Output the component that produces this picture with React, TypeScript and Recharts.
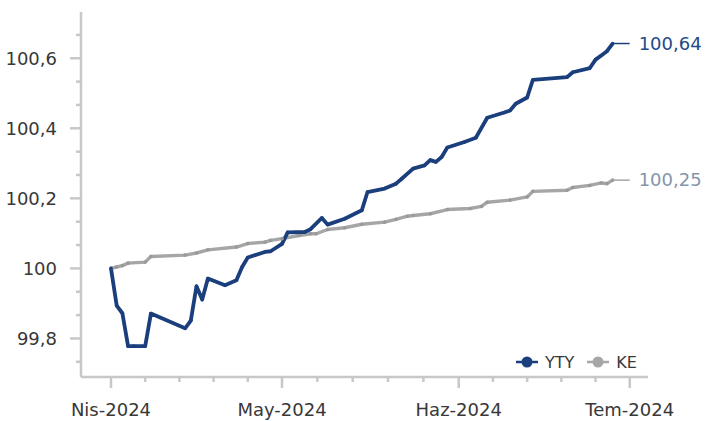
import { LineChart, Line, XAxis, YAxis } from 'recharts';

const DAY = 86400000;

const ytyDates = [
  '2024-04-01', '2024-04-02', '2024-04-03', '2024-04-04', '2024-04-05', '2024-04-07', '2024-04-08',
  '2024-04-14', '2024-04-15', '2024-04-16', '2024-04-17', '2024-04-18', '2024-04-21', '2024-04-23',
  '2024-04-24', '2024-04-25', '2024-04-28', '2024-04-29', '2024-05-01', '2024-05-02', '2024-05-05',
  '2024-05-06', '2024-05-08', '2024-05-09', '2024-05-12', '2024-05-15', '2024-05-16', '2024-05-19',
  '2024-05-21', '2024-05-22', '2024-05-24', '2024-05-26', '2024-05-27', '2024-05-28', '2024-05-29',
  '2024-05-30', '2024-06-02', '2024-06-04', '2024-06-06', '2024-06-09', '2024-06-10', '2024-06-11',
  '2024-06-13', '2024-06-14', '2024-06-20', '2024-06-21', '2024-06-24', '2024-06-25', '2024-06-26',
  '2024-06-27', '2024-06-28',
];
const ytyValues = [
  100.0, 99.894, 99.872, 99.778, 99.778, 99.778, 99.871,
  99.829, 99.851, 99.949, 99.911, 99.971, 99.952, 99.966,
  100.004, 100.031, 100.047, 100.049, 100.07, 100.103, 100.104,
  100.112, 100.144, 100.125, 100.142, 100.166, 100.218, 100.228,
  100.242, 100.256, 100.285, 100.294, 100.309, 100.304, 100.318,
  100.345, 100.361, 100.373, 100.43, 100.445, 100.451, 100.47,
  100.488, 100.538, 100.546, 100.56, 100.572, 100.596, 100.608,
  100.62, 100.642,
];

const keDates = [
  '2024-04-01', '2024-04-02', '2024-04-03', '2024-04-04', '2024-04-07', '2024-04-08', '2024-04-14',
  '2024-04-16', '2024-04-18', '2024-04-23', '2024-04-25', '2024-04-28', '2024-04-29', '2024-05-01',
  '2024-05-04', '2024-05-06', '2024-05-07', '2024-05-09', '2024-05-12', '2024-05-15', '2024-05-19',
  '2024-05-21', '2024-05-23', '2024-05-24', '2024-05-27', '2024-05-30', '2024-06-03', '2024-06-05',
  '2024-06-06', '2024-06-10', '2024-06-13', '2024-06-14', '2024-06-20', '2024-06-21', '2024-06-24',
  '2024-06-26', '2024-06-27', '2024-06-28',
];
const keValues = [
  100.0, 100.004, 100.008, 100.015, 100.018, 100.034, 100.038,
  100.044, 100.053, 100.061, 100.071, 100.075, 100.08, 100.085,
  100.094, 100.099, 100.099, 100.111, 100.116, 100.126, 100.132,
  100.14, 100.149, 100.151, 100.156, 100.168, 100.171, 100.177,
  100.189, 100.195, 100.204, 100.22, 100.223, 100.231, 100.237,
  100.244, 100.242, 100.252,
];

const monthTicks = ['2024-04-01', '2024-05-01', '2024-06-01', '2024-07-01'];
const monthLabels = ['Nis-2024', 'May-2024', 'Haz-2024', 'Tem-2024'];

const ytyColor = '#1b3f7d';
const ytyLabelColor = '#22498a';
const keColor = '#a6a6a6';
const keLabelColor = '#8595ab';
const axisColor = '#c8c8c8';
const textColor = '#383838';
const font = '"DejaVu Sans", Verdana, sans-serif';

const ytyData = ytyDates.map((d, i) => ({ t: Date.parse(d), v: ytyValues[i] }));
const keData = keDates.map((d, i) => ({ t: Date.parse(d), v: keValues[i] }));

const majorTimes = monthTicks.map((d) => Date.parse(d));
const xTicks: number[] = [];
majorTimes.forEach((t, i) => {
  xTicks.push(t);
  const next = majorTimes[i + 1];
  if (next !== undefined) {
    for (let k = 1; k < 5; k++) xTicks.push(t + (k * (next - t)) / 5);
  }
});

// minor ticks every 0.2/3, labels only on the 0.2 steps
const yTicks: number[] = [];
for (let k = -4; k <= 10; k++) yTicks.push(100 + (k * 0.2) / 3);

const fmtComma = (v: number, digits: number) => v.toFixed(digits).replace('.', ',');

const XTick = (props: any) => {
  const { x, y, payload } = props;
  const idx = majorTimes.indexOf(payload.value);
  const major = idx >= 0;
  return (
    <g>
      <line x1={x} y1={y} x2={x} y2={y + (major ? 11 : 5)} stroke={axisColor} strokeWidth={2.5} />
      {major && (
        <text x={x} y={y + 33} dy="0.35em" textAnchor="middle" fill={textColor} fontSize={18} fontFamily={font}>
          {monthLabels[idx]}
        </text>
      )}
    </g>
  );
};

const YTick = (props: any) => {
  const { x, y, payload } = props;
  const k = Math.round(((payload.value - 100) * 3) / 0.2);
  const major = k % 3 === 0;
  const label = fmtComma(100 + (k / 3) * 0.2, 1).replace(',0', '');
  return (
    <g>
      <line x1={x - (major ? 11 : 5)} y1={y} x2={x} y2={y} stroke={axisColor} strokeWidth={2.5} />
      {major && (
        <text x={x - 24} y={y} dy="0.35em" textAnchor="end" fill={textColor} fontSize={18} fontFamily={font}>
          {label}
        </text>
      )}
    </g>
  );
};

const endLabel = (lineColor: string, labelColor: string, lastIndex: number) => (props: any) => {
  const { x, y, index, value } = props;
  if (index !== lastIndex) return null;
  return (
    <g>
      <line x1={x} y1={y} x2={x + 17} y2={y} stroke={lineColor} strokeWidth={1.5} />
      <text x={x + 26} y={y} dy="0.35em" fill={labelColor} fontSize={18} fontFamily={font}>
        {fmtComma(value, 2)}
      </text>
    </g>
  );
};

const LegendIcon = ({ color }: { color: string }) => (
  <svg width={22} height={12} style={{ marginRight: 7 }}>
    <line x1={0} y1={6} x2={22} y2={6} stroke={color} strokeWidth={2.5} />
    <circle cx={11} cy={6} r={5.5} fill={color} />
  </svg>
);

const App = () => {
  return (
    <div style={{ position: 'absolute', left: 0, top: 0, width: 713, height: 421, background: '#fff' }}>
      <LineChart width={713} height={421} margin={{ top: 12, right: 65, bottom: 0, left: 0 }}>
        <XAxis
          dataKey="t"
          type="number"
          scale="linear"
          domain={[majorTimes[0] - 5.26 * DAY, majorTimes[3] + 3.2 * DAY]}
          ticks={xTicks}
          interval={0}
          tick={<XTick />}
          tickSize={0}
          tickMargin={0}
          tickLine={false}
          axisLine={{ stroke: axisColor, strokeWidth: 2.5 }}
          height={44}
        />
        <YAxis
          type="number"
          domain={[99.69, 100.732]}
          ticks={yTicks}
          interval={0}
          tick={<YTick />}
          tickSize={0}
          tickMargin={0}
          tickLine={false}
          axisLine={{ stroke: axisColor, strokeWidth: 2.5 }}
          width={81}
        />
        <Line
          data={keData}
          dataKey="v"
          name="KE"
          type="linear"
          stroke={keColor}
          strokeWidth={3.4}
          strokeLinejoin="round"
          dot={{ r: 1.8, fill: '#999999', stroke: 'none' }}
          activeDot={false}
          isAnimationActive={false}
          label={endLabel(keColor, keLabelColor, keData.length - 1)}
        />
        <Line
          data={ytyData}
          dataKey="v"
          name="YTY"
          type="linear"
          stroke={ytyColor}
          strokeWidth={3.8}
          strokeLinejoin="round"
          dot={{ r: 1.8, fill: ytyColor, stroke: 'none' }}
          activeDot={false}
          isAnimationActive={false}
          label={endLabel(ytyColor, ytyLabelColor, ytyData.length - 1)}
        />
      </LineChart>
      <div
        style={{
          position: 'absolute',
          left: 516,
          top: 352,
          height: 20,
          display: 'flex',
          alignItems: 'center',
          fontFamily: font,
          fontSize: 16,
          color: textColor,
        }}
      >
        <LegendIcon color={ytyColor} />
        <span style={{ marginRight: 13 }}>YTY</span>
        <LegendIcon color={keColor} />
        <span>KE</span>
      </div>
    </div>
  );
};

export default App;
